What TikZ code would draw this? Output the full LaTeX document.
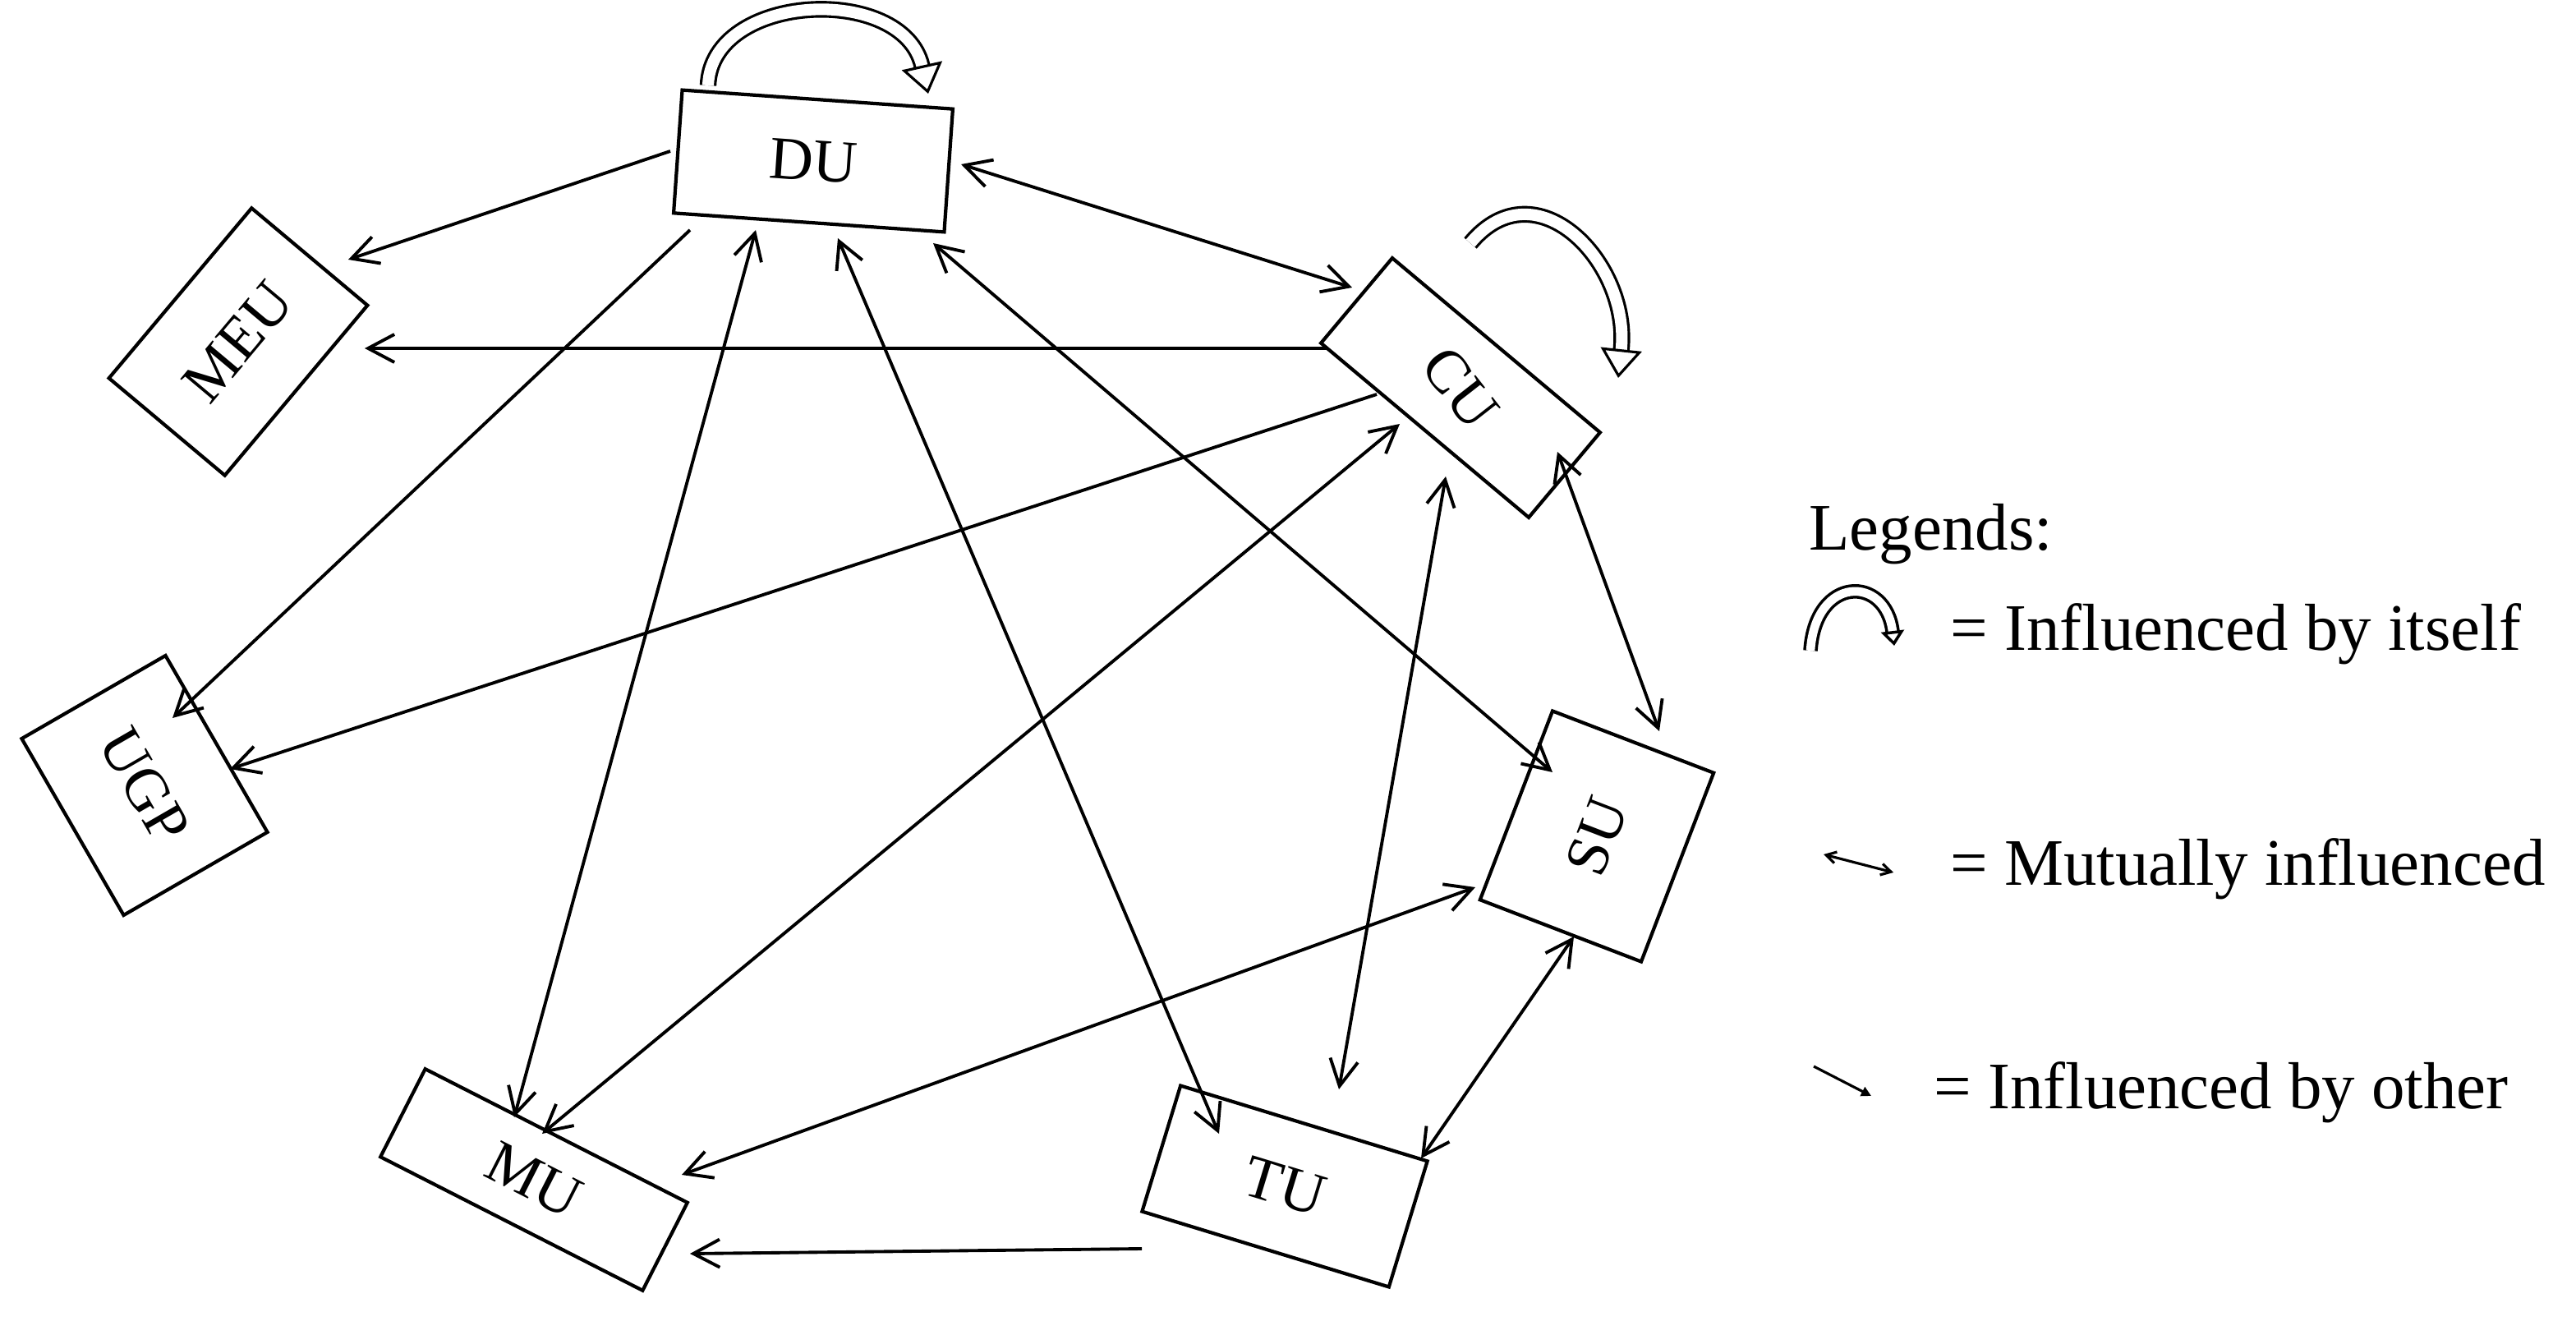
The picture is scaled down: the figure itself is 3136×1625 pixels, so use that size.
\documentclass[tikz,border=0pt]{standalone}
\usepackage{fontspec}
\setmainfont{Liberation Serif}
\usetikzlibrary{arrows.meta}
\begin{document}
\begin{tikzpicture}[x=0.01cm,y=-0.01cm,
  box/.style={draw,line width=1.2pt,inner sep=0pt,font=\fontsize{21}{24}\selectfont},
  con/.style={line width=1.1pt},
  one/.style={con,-{Straight Barb[length=0.32cm,width=0.34cm]}},
  two/.style={con,{Straight Barb[length=0.32cm,width=0.34cm]}-{Straight Barb[length=0.32cm,width=0.34cm]}},
  self/.style={double=white,line width=0.9pt,double distance=4pt,-{Triangle[open,length=0.35cm,width=0.5cm,line width=0.9pt]}},
  txt/.style={anchor=west,font=\fontsize{23}{26}\selectfont}]
\useasboundingbox (0,0) rectangle (3136,1625);
\node[box,rotate=-4,minimum width=3.3cm,minimum height=1.5cm] (DU) at (990,196) {DU};
\node[box,rotate=50,minimum width=2.7cm,minimum height=1.84cm] (MEU) at (290,416) {MEU};
\node[box,rotate=-60,minimum width=2.48cm,minimum height=2.02cm] (UGP) at (176,956) {UGP};
\node[box,rotate=-40,minimum width=3.3cm,minimum height=1.35cm] (CU) at (1778,472) {\rotatebox{-12}{CU}};
\node[box,rotate=69,minimum width=2.46cm,minimum height=2.1cm] (SU) at (1944,1018) {SU};
\node[box,rotate=-27,minimum width=3.58cm,minimum height=1.2cm] (MU) at (650,1436) {MU};
\node[box,rotate=-17,minimum width=3.14cm,minimum height=1.6cm] (TU) at (1564,1444) {TU};
% connectors
\draw[one] ([shift={(-174,-12)}]DU.center) -- ([shift={(134,-100)}]MEU.center);
\draw[one] ([shift={(-162,-48)}]CU.center) -- ([shift={(154,8)}]MEU.center);
\draw[one] ([shift={(-150,84)}]DU.center) -- ([shift={(34,-82)}]UGP.center);
\draw[one] ([shift={(-102,8)}]CU.center) -- ([shift={(104,-20)}]UGP.center);
\draw[two] ([shift={(-70,84)}]DU.center) -- ([shift={(-24,-76)}]MU.center);
\draw[two] ([shift={(30,94)}]DU.center) -- ([shift={(-80,-64)}]TU.center);
\draw[two] ([shift={(146,100)}]DU.center) -- ([shift={(-54,-78)}]SU.center);
\draw[two] ([shift={(180,4)}]DU.center) -- ([shift={(-132,-122)}]CU.center);
\draw[two] ([shift={(-74,44)}]CU.center) -- ([shift={(10,-56)}]MU.center);
\draw[two] ([shift={(-18,108)}]CU.center) -- ([shift={(66,-118)}]TU.center);
\draw[two] ([shift={(118,78)}]CU.center) -- ([shift={(76,-128)}]SU.center);
\draw[two] ([shift={(-148,62)}]SU.center) -- ([shift={(180,-6)}]MU.center);
\draw[two] ([shift={(-28,122)}]SU.center) -- ([shift={(166,-34)}]TU.center);
\draw[one] ([shift={(-174,76)}]TU.center) -- ([shift={(190,90)}]MU.center);
% self loops
\draw[self] ([shift={(-128,-92)}]DU.center) .. controls (866,-10) and (1100,-20) .. ([shift={(140,-82)}]DU.center);
\draw[self] ([shift={(12,-176)}]CU.center) .. controls (1870,200) and (1985,320) .. ([shift={(192,-12)}]CU.center);
% legend
\node[txt] (leg) at (2190,650) {Legends:};
\coordinate (l1a) at (2204,792); \coordinate (l1b) at (2306,786);
\draw[double=white,line width=1pt,double distance=3pt,-{Triangle[open,length=0.18cm,width=0.28cm,line width=1pt]}] (l1a) .. controls (2210,700) and (2296,700) .. (l1b);
\node[txt] (t1) at (2362,772) {= Influenced by itself};
\coordinate (l2a) at (2220,1040); \coordinate (l2b) at (2305,1062);
\draw[con,line width=0.9pt,{Straight Barb[length=0.12cm,width=0.14cm]}-{Straight Barb[length=0.12cm,width=0.14cm]}] (l2a) -- (l2b);
\node[txt] (t2) at (2362,1058) {= Mutually influenced};
\coordinate (l3a) at (2208,1298); \coordinate (l3b) at (2278,1334);
\draw[con,line width=0.9pt,-{Triangle[length=0.12cm,width=0.12cm]}] (l3a) -- (l3b);
\node[txt] (t3) at (2342,1330) {= Influenced by other};
\end{tikzpicture}
\end{document}
